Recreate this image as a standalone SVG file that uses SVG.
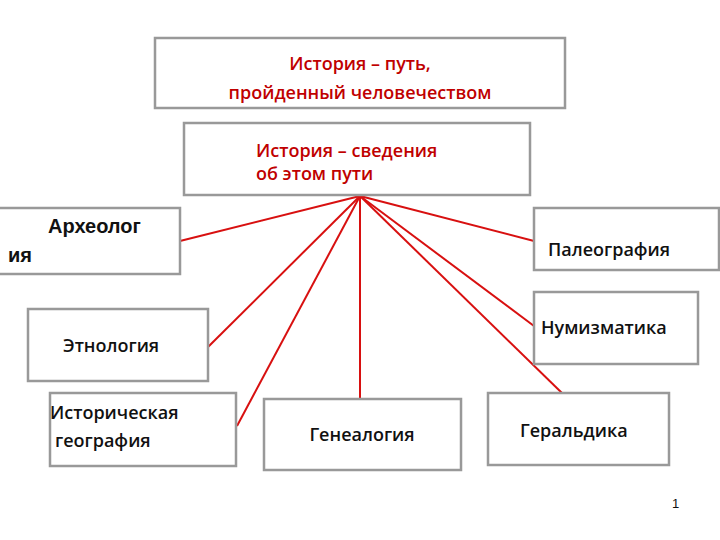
<svg xmlns="http://www.w3.org/2000/svg" width="720" height="540" viewBox="0 0 720 540">
<style>
.b{fill:#fff;stroke:#999;stroke-width:2.5}
.t{font-family:"Open Sans","Liberation Sans",sans-serif;font-size:18px;fill:#111;font-weight:600}
.r{font-family:"Open Sans","Liberation Sans",sans-serif;font-size:18px;fill:#c00000;font-weight:600}
.c{stroke:#d81010;stroke-width:2;fill:none}
</style>
<rect width="720" height="540" fill="#fff"/>
<g id="connectors">
<line class="c" x1="360" y1="196" x2="180" y2="241"/>
<line class="c" x1="360" y1="196" x2="207" y2="348"/>
<line class="c" x1="360" y1="196" x2="237" y2="426"/>
<line class="c" x1="360" y1="196" x2="360" y2="400"/>
<line class="c" x1="360" y1="196" x2="534" y2="241"/>
<line class="c" x1="360" y1="196" x2="534" y2="326"/>
<line class="c" x1="360" y1="196" x2="563" y2="394"/>
</g>
<g id="top"><rect class="b" x="155" y="38" width="410" height="70"/>
<text class="r" x="360" y="70" text-anchor="middle">История – путь,</text>
<text class="r" x="360" y="99" text-anchor="middle">пройденный человечеством</text></g>
<g id="info"><rect class="b" x="184" y="123" width="346" height="72"/>
<text class="r" x="256" y="157" font-size="16">История – сведения</text>
<text class="r" x="256" y="180" font-size="16">об этом пути</text></g>
<g id="arch"><rect class="b" x="-2" y="208" width="182" height="66"/>
<text x="48" y="233" font-family="Liberation Sans,sans-serif" font-weight="bold" font-size="20" fill="#111">Археолог</text>
<text x="8" y="262" font-family="Liberation Sans,sans-serif" font-weight="bold" font-size="20" fill="#111">ия</text></g>
<g id="paleo"><rect class="b" x="534" y="208" width="185" height="62"/>
<text class="t" x="548" y="256">Палеография</text></g>
<g id="ethno"><rect class="b" x="28" y="309" width="180" height="72"/>
<text class="t" x="63" y="352">Этнология</text></g>
<g id="numis"><rect class="b" x="534" y="292" width="164" height="72"/>
<text class="t" x="541" y="334">Нумизматика</text></g>
<g id="geo"><rect class="b" x="50" y="393" width="186" height="73"/>
<text class="t" x="50" y="419">Историческая</text>
<text class="t" x="55" y="447">география</text></g>
<g id="gene"><rect class="b" x="264" y="399" width="197" height="71"/>
<text class="t" x="362" y="441" text-anchor="middle">Генеалогия</text></g>
<g id="herald"><rect class="b" x="488" y="393" width="181" height="72"/>
<text class="t" x="520" y="437">Геральдика</text></g>
<text x="672" y="508" font-family="Liberation Sans,sans-serif" font-size="13" fill="#111">1</text>
</svg>
